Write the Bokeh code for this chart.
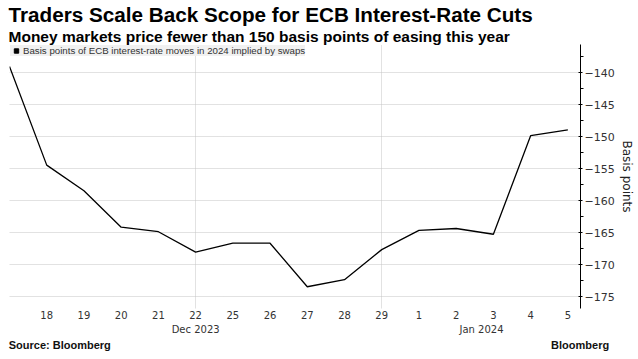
from bokeh.plotting import figure
from bokeh.models import (FixedTicker, LinearAxis, Legend, LegendItem, Range1d, Title)
from bokeh.embed import file_html
from bokeh.resources import INLINE

# ---- data ----
day_labels = ["15", "18", "19", "20", "21", "22", "25", "26", "27", "28", "29", "1", "2", "3", "4", "5"]
values = [-139.0, -154.4, -158.4, -164.1, -164.8, -168.0, -166.6, -166.6,
          -173.4, -172.3, -167.6, -164.6, -164.3, -165.2, -149.8, -148.9]
month_labels = ["Dec 2023", "Jan 2024"]
month_label_pos = [5.0, 12.68]
week_grid_pos = [0, 5, 10]
y_ticks = [-175, -170, -165, -160, -155, -150, -145, -140]
y_minor = [-177.5, -172.5, -167.5, -162.5, -157.5, -152.5, -147.5, -142.5, -137.5]
series_name = "Basis points of ECB interest-rate moves in 2024 implied by swaps"
title_text = "Traders Scale Back Scope for ECB Interest-Rate Cuts"
subtitle_text = "Money markets price fewer than 150 basis points of easing this year"
footer_labels = ["Source: Bloomberg", "Bloomberg"]
footer_pos = [1.35, 15.33]

xs = list(range(len(values)))

p = figure(frame_width=571, frame_height=264, output_backend="svg", toolbar_location=None,
           x_range=Range1d(0, 15.34), y_range=Range1d(-176.8, -135.55),
           y_axis_location="right", min_border_left=9, min_border_top=0,
           min_border_bottom=0, min_border_right=0)
p.outline_line_color = None

# ---- titles (main title on top, subtitle closest to frame) ----
p.title.text = title_text
p.title.text_font = "Liberation Sans"
p.title.text_font_style = "bold"
p.title.text_font_size = "20.7px"
p.title.text_color = "black"
p.title.align = "left"
p.title.offset = -1
p.title.standoff = 0
sub_title = Title(text=subtitle_text, text_font="Liberation Sans", text_font_style="bold",
                  text_font_size="15.5px", text_color="black", align="left",
                  offset=-1, standoff=0)
p.add_layout(sub_title, "above")

# ---- grids ----
p.ygrid.ticker = FixedTicker(ticks=y_ticks)
p.ygrid.grid_line_color = "#c4c4c4"
p.ygrid.grid_line_dash = "1 1"
p.xgrid.ticker = FixedTicker(ticks=week_grid_pos)
p.xgrid.grid_line_color = "#c4c4c4"
p.xgrid.grid_line_dash = "1 1"

# ---- series ----
p.line(xs, values, line_color="black", line_width=1.3)

sq = p.scatter(x=[float("nan")], y=[float("nan")], marker="square", color="black", size=5)
legend = Legend(items=[LegendItem(label=series_name, renderers=[sq])], location="top_left")
legend.background_fill_color = "#f1f1f1"
legend.background_fill_alpha = 1
legend.border_line_color = None
legend.margin = 1
legend.padding = 4
legend.spacing = 0
legend.glyph_width = 12
legend.glyph_height = 11
legend.label_standoff = 1
legend.label_text_font = "Liberation Sans"
legend.label_text_font_size = "9.7px"
legend.label_text_color = "#333333"
legend.label_height = 11
p.add_layout(legend, "center")


def bare_axis(ax, standoff, font, size, style="normal", color="#333333"):
    ax.axis_line_color = None
    ax.major_tick_line_color = None
    ax.minor_tick_line_color = None
    ax.major_tick_out = 0
    ax.major_tick_in = 0
    ax.minor_tick_out = 0
    ax.minor_tick_in = 0
    ax.major_label_standoff = standoff
    ax.major_label_text_font = font
    ax.major_label_text_font_size = size
    ax.major_label_text_font_style = style
    ax.major_label_text_color = color


# ---- x axis (days) ----
xa = p.xaxis[0]
xa.ticker = FixedTicker(ticks=xs[1:])
xa.major_label_overrides = {i: day_labels[i] for i in xs[1:]}
bare_axis(xa, 2, "DejaVu Sans", "10px")

# ---- month axis ----
ma = LinearAxis(ticker=FixedTicker(ticks=month_label_pos),
                major_label_overrides={month_label_pos[i]: month_labels[i] for i in range(2)})
bare_axis(ma, 2, "DejaVu Sans", "10px")
p.add_layout(ma, "below")

# ---- footer ----
fa = LinearAxis(ticker=FixedTicker(ticks=footer_pos),
                major_label_overrides={footer_pos[i]: footer_labels[i] for i in range(2)})
bare_axis(fa, 1, "Liberation Sans", "11px", style="bold", color="#111111")
p.add_layout(fa, "below")

# ---- y axis right ----
ya = p.yaxis[0]
ya.ticker = FixedTicker(ticks=y_ticks, minor_ticks=y_minor)
ya.axis_line_color = "black"
ya.major_tick_line_color = "black"
ya.minor_tick_line_color = "black"
ya.major_tick_in = 2
ya.major_tick_out = 2
ya.minor_tick_in = 0
ya.minor_tick_out = 3
ya.major_label_standoff = 1
ya.major_label_text_font = "DejaVu Sans"
ya.major_label_text_font_size = "11px"
ya.major_label_text_color = "#333333"
ya.axis_label = "Basis points"
ya.axis_label_text_font = "DejaVu Sans"
ya.axis_label_text_font_size = "12px"
ya.axis_label_text_font_style = "normal"
ya.axis_label_text_color = "#222222"
ya.axis_label_standoff = 2

open("out.html", "w").write(file_html(p, INLINE))
